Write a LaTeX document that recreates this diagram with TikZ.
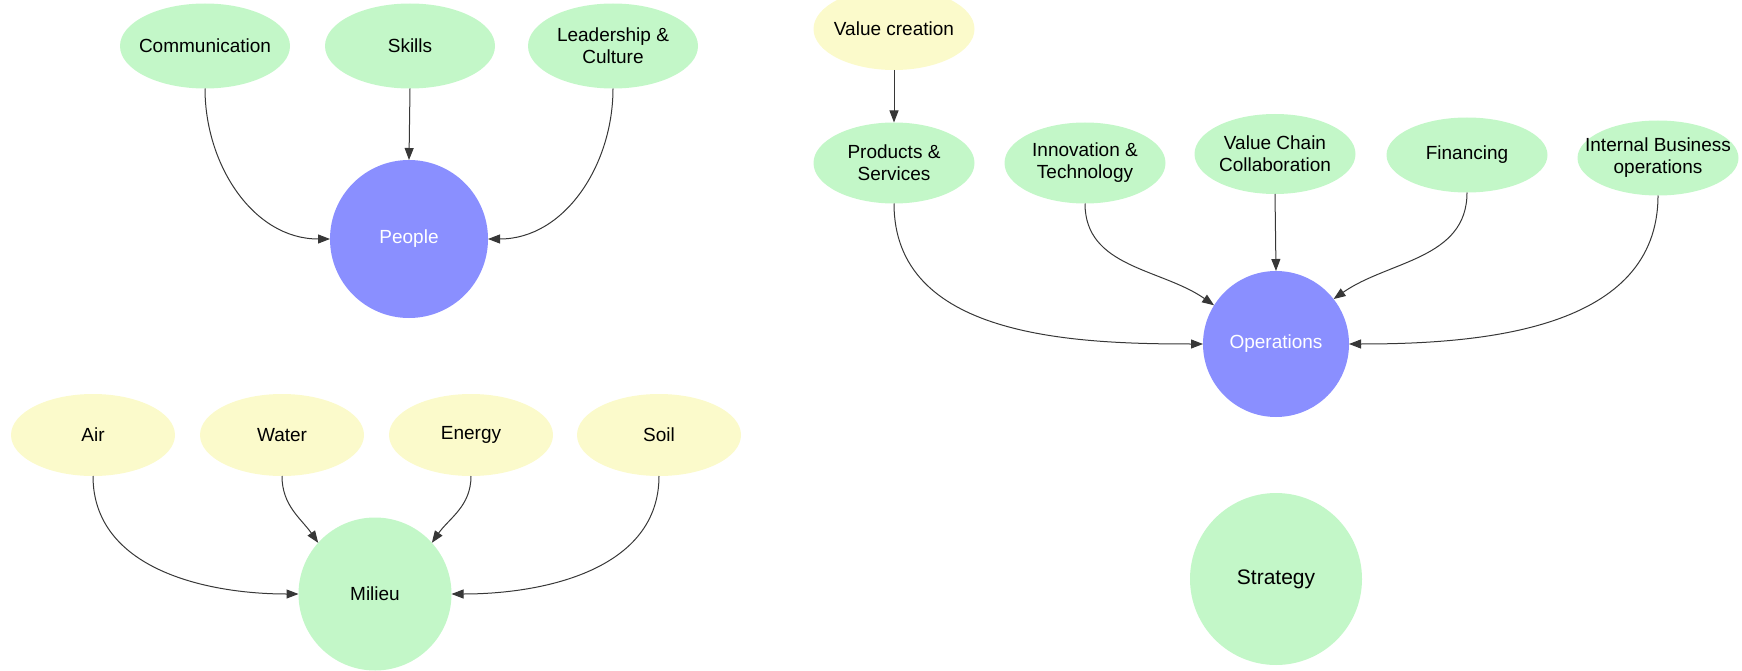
\documentclass[tikz,border=0pt]{standalone}
\usepackage{fontspec}
\setmainfont{Liberation Sans}
\usetikzlibrary{shapes.geometric,arrows.meta}
\definecolor{lgreen}{RGB}{195,247,200}
\definecolor{lyellow}{RGB}{251,250,203}
\definecolor{lblue}{RGB}{138,143,255}
\definecolor{edgecol}{RGB}{55,55,55}
\tikzset{
  ell/.style={ellipse, fill=#1, draw=none, inner sep=0pt, outer sep=0pt},
  circ/.style={circle, fill=#1, draw=none, inner sep=0pt, outer sep=0pt},
  txt/.style={font=\fontsize{19}{22}\selectfont, align=center, text=black},
  wtxt/.style={font=\fontsize{19}{22}\selectfont, align=center, text=white},
  arr/.style={draw=edgecol, line width=1pt, -{Triangle[length=12pt,width=9pt]}},
}
\begin{document}
\begin{tikzpicture}[x=1pt,y=-1pt]
\useasboundingbox (0,0) rectangle (1742,671);
% People group
\node[ell=lgreen, minimum width=170, minimum height=85, label={[txt]center:Communication}] (comm) at (205,46) {};
\node[ell=lgreen, minimum width=170, minimum height=85, label={[txt]center:Skills}] (skills) at (410,46) {};
\node[ell=lgreen, minimum width=170, minimum height=85, label={[txt]center:Leadership \&\\Culture}] (lead) at (613,46) {};
\node[circ=lblue, minimum size=158, label={[wtxt]center:People}] (people) at (409,239) {};
\draw[arr] (comm.south) to[out=-90,in=180] (people.west);
\draw[arr] (skills.south) -- (people.north);
\draw[arr] (lead.south) to[out=-90,in=0] (people.east);
% Milieu group
\node[ell=lyellow, minimum width=164, minimum height=82, label={[txt]center:Air}] (air) at (93,435) {};
\node[ell=lyellow, minimum width=164, minimum height=82, label={[txt]center:Water}] (water) at (282,435) {};
\node[ell=lyellow, minimum width=164, minimum height=82, label={[txt]center:Energy}] (energy) at (471,435) {};
\node[ell=lyellow, minimum width=164, minimum height=82, label={[txt]center:Soil}] (soil) at (659,435) {};
\node[circ=lgreen, minimum size=153, label={[txt]center:Milieu}] (mil) at (375,594) {};
\draw[arr] (air.south) to[out=-90,in=180] (mil.west);
\draw[arr] (water.south) to[out=-90,in=125] (mil.138);
\draw[arr] (energy.south) to[out=-90,in=55] (mil.42);
\draw[arr] (soil.south) to[out=-90,in=0] (mil.east);
% Operations group
\node[ell=lyellow, minimum width=161, minimum height=82, label={[txt]center:Value creation}] (vc) at (894,29) {};
\node[ell=lgreen, minimum width=161, minimum height=81, label={[txt]center:Products \&\\Services}] (prod) at (894,163) {};
\node[ell=lgreen, minimum width=161, minimum height=81, label={[txt]center:Innovation \&\\Technology}] (inn) at (1085,163) {};
\node[ell=lgreen, minimum width=161, minimum height=80, label={[txt]center:Value Chain\\Collaboration}] (vcc) at (1275,154) {};
\node[ell=lgreen, minimum width=161, minimum height=75, label={[txt]center:Financing}] (fin) at (1467,155) {};
\node[ell=lgreen, minimum width=161, minimum height=75, label={[txt]center:Internal Business\\operations}] (ib) at (1658,158) {};
\node[circ=lblue, minimum size=146, label={[wtxt]center:Operations}] (ops) at (1276,344) {};
\draw[arr] (vc.south) -- (prod.north);
\draw[arr] (prod.south) to[out=-90,in=180] (ops.west);
\draw[arr] (inn.south) to[out=-90,in=145] (ops.148);
\draw[arr] (vcc.south) -- (ops.north);
\draw[arr] (fin.south) to[out=-90,in=35] (ops.38);
\draw[arr] (ib.south) to[out=-90,in=0] (ops.east);
% Strategy
\node[circ=lgreen, minimum size=172, label={[font=\fontsize{21}{25}\selectfont, text=black]center:Strategy}] (strat) at (1276,579) {};
\end{tikzpicture}
\end{document}
